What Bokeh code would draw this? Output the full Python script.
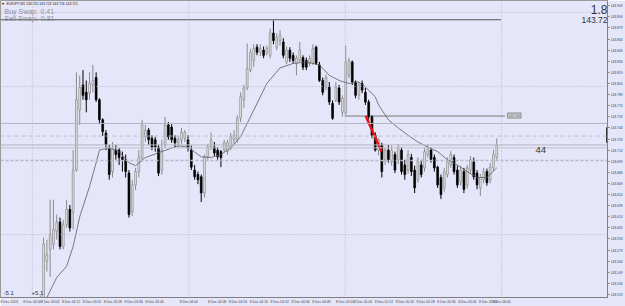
from bokeh.plotting import figure
from bokeh.models import (Range1d, FixedTicker, PrintfTickFormatter, CustomJSTickFormatter,
                          Label, Span, ColumnDataSource)
from bokeh.embed import file_html
from bokeh.resources import INLINE

# ---------------- data ----------------
opens = [143.499, 143.506, 143.564, 143.580, 143.587, 143.604, 143.617, 143.584, 143.613, 143.634,
         143.630, 143.687, 143.768, 143.802, 143.792, 143.791, 143.802, 143.812, 143.782, 143.755,
         143.737, 143.717, 143.685, 143.714, 143.714, 143.704, 143.701, 143.683, 143.631, 143.667,
         143.685, 143.704, 143.732, 143.741, 143.730, 143.728, 143.718, 143.687, 143.721, 143.748,
         143.745, 143.730, 143.724, 143.728, 143.730, 143.728, 143.714, 143.687, 143.681, 143.678,
         143.656, 143.705, 143.718, 143.718, 143.714, 143.712, 143.714, 143.712, 143.717, 143.728,
         143.728, 143.757, 143.782, 143.798, 143.822, 143.835, 143.853, 143.846, 143.849, 143.846,
         143.842, 143.872, 143.853, 143.862, 143.860, 143.833, 143.849, 143.842, 143.831, 143.835,
         143.839, 143.835, 143.831, 143.831, 143.853, 143.829, 143.808, 143.799, 143.799, 143.777,
         143.781, 143.798, 143.765, 143.764, 143.815, 143.833, 143.806, 143.788, 143.804, 143.792,
         143.779, 143.759, 143.734, 143.714, 143.721, 143.701, 143.714, 143.698, 143.708, 143.701,
         143.714, 143.694, 143.687, 143.704, 143.687, 143.674, 143.694, 143.690, 143.708, 143.714,
         143.704, 143.691, 143.677, 143.663, 143.681, 143.694, 143.704, 143.687, 143.671, 143.685,
         143.667, 143.687, 143.698, 143.683, 143.663, 143.674, 143.685, 143.674, 143.690, 143.704]
highs = [143.518, 143.596, 143.593, 143.647, 143.647, 143.627, 143.623, 143.620, 143.647, 143.640,
         143.714, 143.819, 143.815, 143.822, 143.808, 143.819, 143.829, 143.819, 143.784, 143.757,
         143.741, 143.721, 143.725, 143.721, 143.717, 143.712, 143.708, 143.687, 143.674, 143.690,
         143.714, 143.755, 143.748, 143.744, 143.734, 143.732, 143.721, 143.728, 143.759, 143.752,
         143.749, 143.734, 143.733, 143.744, 143.741, 143.734, 143.720, 143.694, 143.685, 143.681,
         143.708, 143.722, 143.738, 143.725, 143.718, 143.714, 143.728, 143.728, 143.737, 143.741,
         143.761, 143.792, 143.802, 143.858, 143.851, 143.857, 143.857, 143.857, 143.854, 143.855,
         143.878, 143.889, 143.872, 143.876, 143.865, 143.854, 143.853, 143.846, 143.842, 143.860,
         143.842, 143.839, 143.842, 143.857, 143.855, 143.833, 143.812, 143.816, 143.806, 143.781,
         143.806, 143.802, 143.788, 143.855, 143.839, 143.835, 143.808, 143.806, 143.808, 143.798,
         143.782, 143.761, 143.738, 143.730, 143.724, 143.718, 143.721, 143.720, 143.712, 143.722,
         143.718, 143.701, 143.714, 143.709, 143.693, 143.704, 143.701, 143.717, 143.722, 143.718,
         143.708, 143.693, 143.681, 143.690, 143.704, 143.713, 143.708, 143.693, 143.693, 143.690,
         143.694, 143.706, 143.704, 143.687, 143.682, 143.690, 143.689, 143.697, 143.714, 143.730]
lows = [143.496, 143.504, 143.550, 143.543, 143.580, 143.593, 143.580, 143.580, 143.609, 143.604,
        143.607, 143.685, 143.748, 143.782, 143.765, 143.782, 143.792, 143.779, 143.749, 143.733,
        143.714, 143.674, 143.677, 143.701, 143.694, 143.685, 143.677, 143.623, 143.625, 143.660,
        143.677, 143.698, 143.725, 143.721, 143.714, 143.712, 143.679, 143.681, 143.717, 143.728,
        143.724, 143.717, 143.717, 143.722, 143.725, 143.712, 143.687, 143.674, 143.668, 143.644,
        143.650, 143.701, 143.714, 143.706, 143.701, 143.691, 143.712, 143.708, 143.714, 143.721,
        143.724, 143.752, 143.771, 143.795, 143.819, 143.826, 143.842, 143.841, 143.838, 143.842,
        143.838, 143.857, 143.849, 143.855, 143.838, 143.830, 143.833, 143.831, 143.815, 143.833,
        143.822, 143.822, 143.827, 143.829, 143.829, 143.806, 143.788, 143.795, 143.775, 143.755,
        143.779, 143.775, 143.759, 143.760, 143.811, 143.802, 143.784, 143.782, 143.791, 143.775,
        143.755, 143.730, 143.712, 143.707, 143.677, 143.694, 143.697, 143.693, 143.683, 143.695,
        143.681, 143.674, 143.682, 143.679, 143.656, 143.670, 143.677, 143.685, 143.704, 143.697,
        143.685, 143.663, 143.648, 143.658, 143.677, 143.690, 143.681, 143.663, 143.666, 143.656,
        143.662, 143.682, 143.674, 143.661, 143.652, 143.669, 143.666, 143.669, 143.686, 143.701]
closes = [143.512, 143.587, 143.573, 143.600, 143.607, 143.617, 143.584, 143.613, 143.634, 143.609,
          143.687, 143.782, 143.799, 143.788, 143.782, 143.804, 143.808, 143.782, 143.755, 143.739,
          143.721, 143.681, 143.717, 143.708, 143.704, 143.701, 143.685, 143.627, 143.667, 143.685,
          143.704, 143.748, 143.741, 143.728, 143.718, 143.718, 143.683, 143.714, 143.748, 143.732,
          143.728, 143.724, 143.728, 143.738, 143.738, 143.717, 143.691, 143.678, 143.674, 143.656,
          143.705, 143.718, 143.728, 143.710, 143.705, 143.704, 143.724, 143.724, 143.732, 143.734,
          143.757, 143.786, 143.798, 143.824, 143.846, 143.851, 143.846, 143.851, 143.842, 143.851,
          143.872, 143.862, 143.866, 143.869, 143.842, 143.849, 143.838, 143.835, 143.838, 143.849,
          143.826, 143.826, 143.838, 143.851, 143.831, 143.808, 143.792, 143.812, 143.779, 143.757,
          143.799, 143.779, 143.784, 143.833, 143.835, 143.806, 143.788, 143.802, 143.795, 143.779,
          143.759, 143.734, 143.714, 143.728, 143.685, 143.714, 143.701, 143.714, 143.687, 143.717,
          143.685, 143.681, 143.708, 143.685, 143.663, 143.698, 143.681, 143.712, 143.717, 143.701,
          143.690, 143.667, 143.654, 143.685, 143.698, 143.708, 143.685, 143.667, 143.687, 143.661,
          143.690, 143.701, 143.678, 143.667, 143.677, 143.685, 143.670, 143.691, 143.708, 143.721]

# moving average read at sample bars
ma_index = [1, 2, 5, 8, 10, 12, 15, 17, 18, 21, 24, 27, 29, 32, 37, 42, 45, 49, 52, 55, 58, 61,
            65, 69, 73, 77, 81, 85, 88, 91, 94, 97, 99, 102, 103, 106, 109, 112, 115, 118, 121,
            124, 127, 130, 133, 136, 139]
ma_values = [143.512, 143.515, 143.542, 143.557, 143.584, 143.624, 143.665, 143.697, 143.714,
             143.717, 143.712, 143.697, 143.693, 143.704, 143.712, 143.720, 143.718, 143.705,
             143.704, 143.708, 143.717, 143.732, 143.768, 143.804, 143.825, 143.831, 143.833,
             143.829, 143.815, 143.808, 143.804, 143.806, 143.799, 143.786, 143.775, 143.755,
             143.744, 143.734, 143.725, 143.718, 143.712, 143.701, 143.694, 143.685, 143.677,
             143.677, 143.690]

price_ticks = [143.519, 143.534, 143.549, 143.564, 143.579, 143.594, 143.609, 143.624, 143.639,
               143.654, 143.669, 143.684, 143.699, 143.714, 143.729, 143.744, 143.759, 143.774,
               143.789, 143.804, 143.819, 143.834, 143.849, 143.864, 143.879, 143.894, 143.909]
grid_prices = [143.600, 143.800, 143.900]
grid_price_dashed = 143.700
time_label_minutes = [4, 12, 20, 28, 36, 44, 68, 76, 84, 92, 100, 108, 124, 132, 140,
                      148, 156, 164, 172]
hour_minutes = [0, 60, 120, 180]

level_top = 143.890
level_full = 143.750
level_dashed = 143.733
level_bid = 143.721
level_low2 = 143.717
level_mid = 143.760
trend_index = [99.1, 103.9]
trend_price = [143.760, 143.712]

symbol_text = "EURJPY,M1  143.720 143.723 143.716 143.721"
swap_names = ["Buy Swap:", "Sell Swap:"]
swap_values = ["0.41", "-0.81"]

# ---------------- layout constants ----------------
BG = "#E6E6FA"
FRAME_W, FRAME_H = 610, 298
FIRST_PX, BAR_PX = 40.0, 3.3          # pixel of first bar, spacing of bars
MIN_PX, ORIGIN_PX = 2.62, 32.0        # pixels per minute, pixel of 03:00


def px_to_idx(px):
    return (px - FIRST_PX) / BAR_PX


def minute_to_idx(m):
    return px_to_idx(ORIGIN_PX + MIN_PX * m)


def hhmm(m):
    return "8 Dec %02d:%02d" % (3 + m // 60, m % 60)


p = figure(width=625, height=306, output_backend="svg", toolbar_location=None,
           x_range=Range1d(px_to_idx(0), px_to_idx(FRAME_W)),
           y_range=Range1d(143.515, 143.916),
           y_axis_location="right",
           min_border_left=0, min_border_top=0, min_border_right=15, min_border_bottom=8,
           background_fill_color=BG, border_fill_color=BG,
           outline_line_color="#9a9a9a", outline_line_width=1)
p.grid.visible = False

# axes
ya = p.yaxis[0]
ya.ticker = FixedTicker(ticks=price_ticks)
ya.formatter = PrintfTickFormatter(format="%.3f")
ya.major_label_text_font = "Liberation Sans"
ya.major_label_text_font_size = "3.4px"
ya.major_label_text_color = "#444444"
ya.major_tick_out = 2
ya.major_tick_in = 0
ya.minor_tick_out = 0
ya.minor_tick_in = 0
ya.major_label_standoff = 1
ya.axis_line_color = "#808080"
ya.major_tick_line_color = "#808080"

tick_pos = ([px_to_idx(7.5)] + [minute_to_idx(m) + 7.5 / BAR_PX for m in time_label_minutes]
            + [minute_to_idx(m) for m in hour_minutes])
tick_lab = (["8 Dec 2023"] + [hhmm(m) for m in time_label_minutes]
            + [hhmm(m) for m in hour_minutes])
xa = p.xaxis[0]
xa.ticker = FixedTicker(ticks=tick_pos)
xa.formatter = CustomJSTickFormatter(args=dict(pos=tick_pos, labs=tick_lab), code="""
for (let j = 0; j < pos.length; j++) { if (Math.abs(pos[j] - tick) < 1e-6) return labs[j]; }
return "";
""")
xa.major_label_text_font = "Liberation Sans"
xa.major_label_text_font_size = "3.4px"
xa.major_label_text_color = "#444444"
xa.major_tick_out = 0
xa.major_tick_in = 0
xa.minor_tick_out = 0
xa.minor_tick_in = 0
xa.major_label_standoff = 2
xa.axis_line_color = "#808080"

# grid (dotted)
for gp in grid_prices:
    p.add_layout(Span(location=gp, dimension="width", line_color="#b4b4c4",
                      line_dash="1 2", line_width=1))
p.add_layout(Span(location=grid_price_dashed, dimension="width", line_color="#b8b8c8",
                  line_dash="3 2", line_width=1.3))
for hm in hour_minutes:
    p.add_layout(Span(location=minute_to_idx(hm), dimension="height", line_color="#b4b4c4",
                      line_dash="1 2", line_width=1))

# horizontal levels
p.add_layout(Span(location=level_full, dimension="width", line_color="#b2b2c2", line_width=1))
p.add_layout(Span(location=level_dashed, dimension="width", line_color="#bcbccc",
                  line_dash="4 3", line_width=1))
p.add_layout(Span(location=level_bid, dimension="width", line_color="#b4b4c0", line_width=1))
p.add_layout(Span(location=level_low2, dimension="width", line_color="#c0c0cc", line_width=1))
p.segment(x0=[px_to_idx(0)], y0=[level_top], x1=[px_to_idx(503)], y1=[level_top],
          line_color="#555555", line_width=1)
p.segment(x0=[px_to_idx(346)], y0=[level_mid], x1=[px_to_idx(507)], y1=[level_mid],
          line_color="#777777", line_width=1)

# candles
xs = list(range(len(opens)))
bull = ColumnDataSource(dict(
    x=[x for x, o, c in zip(xs, opens, closes) if c >= o],
    hi=[h for h, o, c in zip(highs, opens, closes) if c >= o],
    lo=[l for l, o, c in zip(lows, opens, closes) if c >= o],
    top=[c for o, c in zip(opens, closes) if c >= o],
    bot=[o for o, c in zip(opens, closes) if c >= o]))
bear = ColumnDataSource(dict(
    x=[x for x, o, c in zip(xs, opens, closes) if c < o],
    hi=[h for h, o, c in zip(highs, opens, closes) if c < o],
    lo=[l for l, o, c in zip(lows, opens, closes) if c < o],
    top=[o for o, c in zip(opens, closes) if c < o],
    bot=[c for o, c in zip(opens, closes) if c < o]))
p.segment(x0="x", y0="hi", x1="x", y1="lo", source=bull, line_color="#8a8a8a", line_width=1)
p.segment(x0="x", y0="hi", x1="x", y1="lo", source=bear, line_color="#000000", line_width=1)
p.vbar(x="x", top="top", bottom="bot", width=0.55, source=bull,
       fill_color="#e4e4e4", line_color="#8a8a8a", line_width=0.7)
p.vbar(x="x", top="top", bottom="bot", width=0.55, source=bear,
       fill_color="#000000", line_color="#000000", line_width=0.7)

# moving average
p.line(ma_index, ma_values, line_color="#5c5c5c", line_width=0.8)

# red trend line
p.line(trend_index, trend_price, line_color="#ee1111", line_width=2.5)

# dark mark on the price axis
p.segment(x0=[px_to_idx(FRAME_W)], y0=[143.724], x1=[px_to_idx(FRAME_W)], y1=[143.745],
          line_color="#333333", line_width=3)


def lab(cx, cy, text, size, color, align="left", font="Liberation Sans", **kw):
    p.add_layout(Label(x=cx, y=FRAME_H - cy, x_units="screen", y_units="screen", text=text,
                       text_font=font, text_font_size="%spx" % size, text_color=color,
                       text_align=align, text_baseline="middle", **kw))


lab(1.5, 4, "\u25be", 4, "#000000", font="DejaVu Sans")
lab(6, 4, symbol_text, 3.4, "#222222")
lab(4, 12, swap_names[0], 7, "#8e8e98")
lab(40, 12, swap_values[0], 7, "#8e8e98")
lab(4, 19, swap_names[1], 7, "#8e8e98")
lab(38, 19, swap_values[1], 7, "#8e8e98")
lab(607, 10, "1.8", 12, "#333333", align="right")
lab(607, 20.5, "143.72", 8.5, "#333333", align="right")
lab(535, 150, "44", 9.5, "#333333")
lab(3, 293, "-5.1", 6, "#333333")
lab(31, 293, "+5.1", 6, "#333333")
lab(507, 116, "143.760", 3.2, "#555555", background_fill_color="#d8d8e4",
    border_line_color="#888888", padding=1)

open("out.html", "w").write(file_html(p, INLINE))
